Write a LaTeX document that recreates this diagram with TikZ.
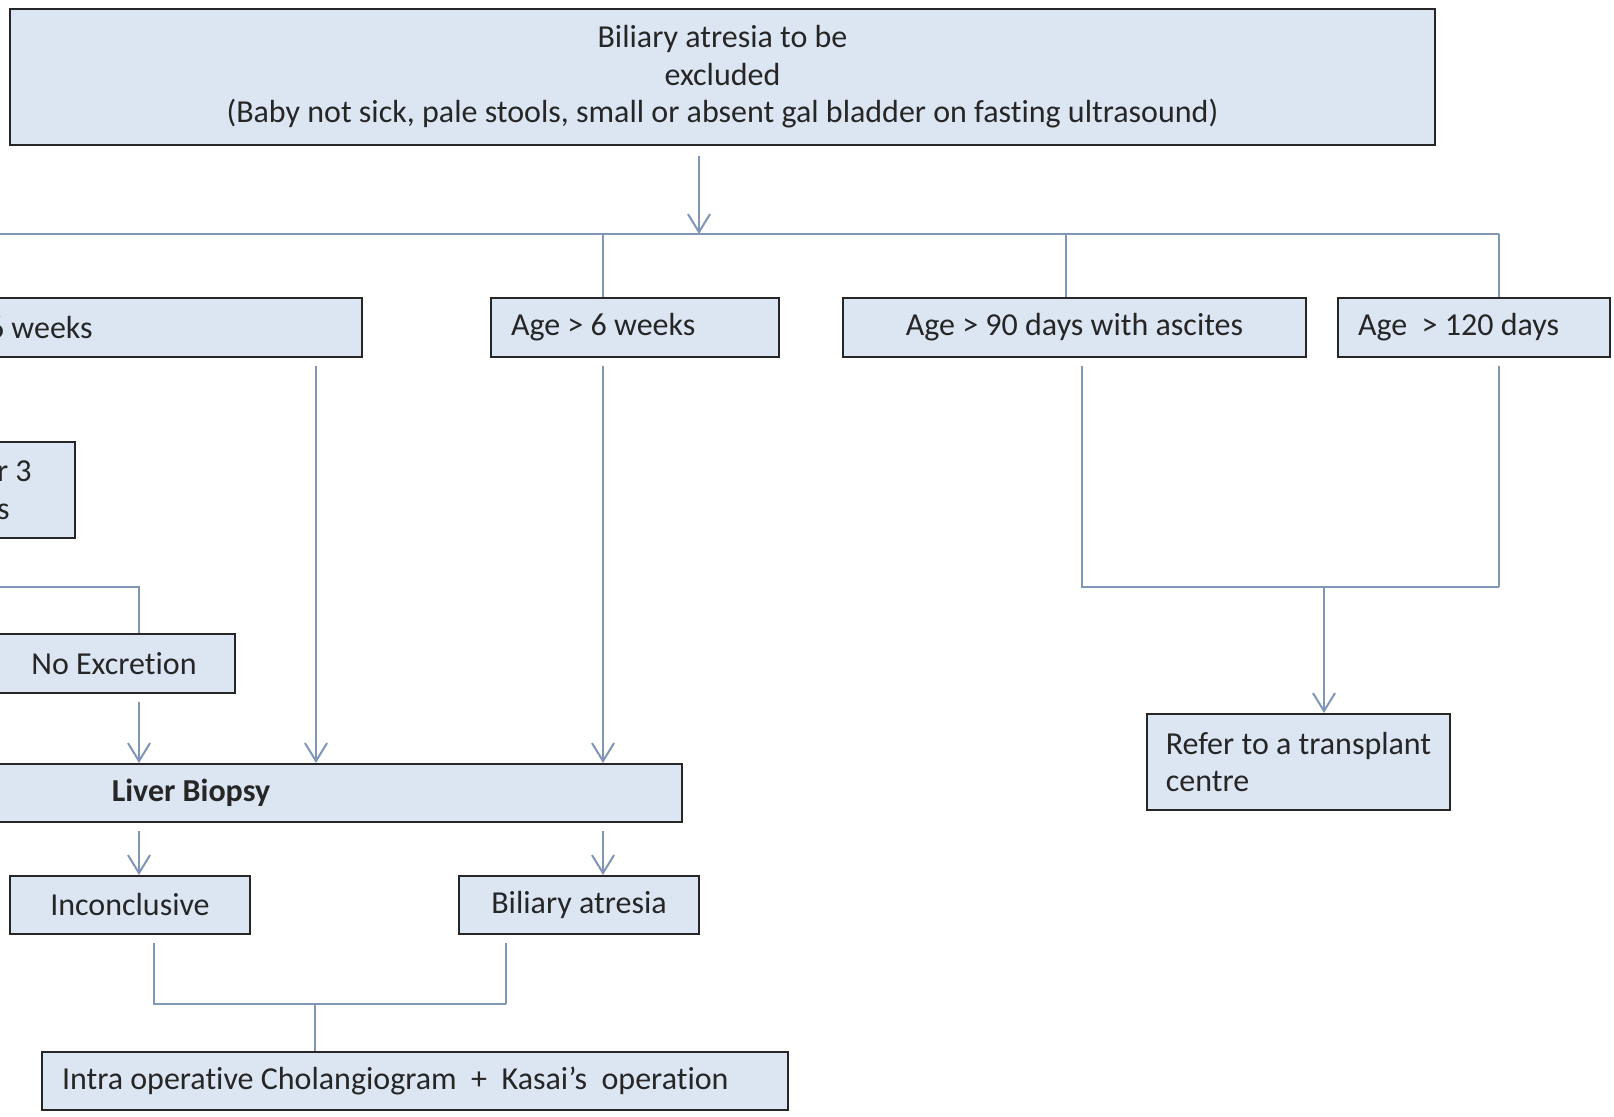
\documentclass[tikz,border=0pt]{standalone}
\usepackage{fontspec}
\setmainfont{Carlito}[Ligatures=NoCommon]
\usepackage{xcolor}
\usetikzlibrary{arrows.meta,positioning}
\definecolor{boxfill}{HTML}{DCE6F2}
\definecolor{boxedge}{HTML}{262626}
\definecolor{linkcol}{HTML}{7F96B6}
\tikzset{basic/.style={draw=boxedge,fill=boxfill,line width=1pt,inner sep=0pt,
                       text=black!85,font=\fontsize{16}{18.75}\selectfont,
                       text badly centered}}
\tikzset{stage/.style={basic,rectangle,minimum height=29.5pt}}
\tikzset{leftstage/.style={stage,align=flush left,inner xsep=10pt}}
\tikzset{link/.style={draw=linkcol,line width=1pt}}
\tikzset{arrow/.style={link,-{Straight Barb[length=9pt,width=11pt,line width=1pt]}}}

\begin{document}
\begin{tikzpicture}[x=0.5pt,y=-0.5pt]
    \useasboundingbox (0,0) rectangle (1614,1117);
    \clip (0,0) rectangle (1614,1117);
    \fill[white] (0,0) rectangle (1614,1117);
    % Draw top node
    \node[stage,align=center,minimum width=712.5pt,minimum height=68pt] (excl) at (722.5,77)
        {Biliary atresia to be\\excluded\\(Baby not sick, pale stools, small or absent gal bladder on fasting ultrasound)};
    % Draw age nodes
    \node[leftstage,text width=177pt] (young) at (165,327.5) {6 weeks};
    \node[leftstage,text width=124pt] (older) at (635,327.5) {Age > 6 weeks};
    \node[stage,minimum width=231.5pt] (ascites) at (1074.5,327.5) {Age > 90 days with ascites};
    \node[leftstage,text width=116pt] (late) at (1474,327.5) {Age~ > 120 days};
    % Draw scan and biopsy nodes
    \node[leftstage,text width=29pt,minimum height=48.25pt] (hida) at (26,490) {r 3\\s};
    \node[stage,minimum width=121pt] (noexc) at (114,663.5) {No Excretion};
    \node[stage,minimum width=491pt,minimum height=29pt] (biopsy) at (191,793) {\textbf{Liver Biopsy}};
    \node[stage,minimum width=120pt,minimum height=29pt] (incon) at (130,905) {Inconclusive};
    \node[stage,minimum width=120pt,minimum height=29pt] (atresia) at (579,905) {Biliary atresia};
    \node[leftstage,text width=353pt,minimum height=29pt] (kasai) at (415,1081)
        {Intra operative Cholangiogram~ +~ Kasai’s~ operation};
    \node[stage,align=flush left,minimum width=151.5pt,minimum height=48pt] (refer) at (1298.5,762)
        {Refer to a transplant\\centre};
    % Columns and junctions
    \coordinate (colA) at (139,0);
    \coordinate (colB) at (316,0);
    \coordinate (colC) at (603,0);
    \coordinate (bus) at (699,234);
    \coordinate (busW) at (-20,234);
    \coordinate (busE) at (1499,234);
    % Connect top node to age nodes
    \draw[arrow] (excl.south -| bus) ++(0,10) -- (bus);
    \draw[link] (busW) -- (busE);
    \foreach \n/\cx in {older/603,ascites/1066,late/1499}{%
          \coordinate (drop) at (\cx,234);
          \draw[link] (drop) -- (\n.north -| drop);
        }
    % Scan branch
    \coordinate (hidasplit) at (-15,587);
    \draw[link] (hidasplit) -| (noexc.north -| colA);
    % Arrows into and out of biopsy
    \draw[arrow] (young.south -| colB) ++(0,8) -- (biopsy.north -| colB);
    \draw[arrow] (older.south -| colC) ++(0,8) -- (biopsy.north -| colC);
    \draw[arrow] (noexc.south -| colA) ++(0,8) -- (biopsy.north -| colA);
    \draw[arrow] (biopsy.south -| colA) ++(0,8) -- (incon.north -| colA);
    \draw[arrow] (biopsy.south -| colC) ++(0,8) -- (atresia.north -| colC);
    % Join to operation
    \coordinate (joinL) at (154,1004);
    \coordinate (joinR) at (506,1004);
    \coordinate (joinM) at (315,1004);
    \draw[link] (incon.south -| joinL) ++(0,8) |- (joinR);
    \draw[link] (atresia.south -| joinR) ++(0,8) -- (joinR);
    \draw[link] (joinM) -- (kasai.north -| joinM);
    % Join to transplant centre
    \coordinate (joinA) at (1082,587);
    \coordinate (joinB) at (1499,587);
    \coordinate (joinC) at (1324,587);
    \draw[link] (ascites.south -| joinA) ++(0,8) |- (joinB);
    \draw[link] (late.south -| joinB) ++(0,8) -- (joinB);
    \draw[arrow] (joinC) -- (refer.north -| joinC);
\end{tikzpicture}
\end{document}
